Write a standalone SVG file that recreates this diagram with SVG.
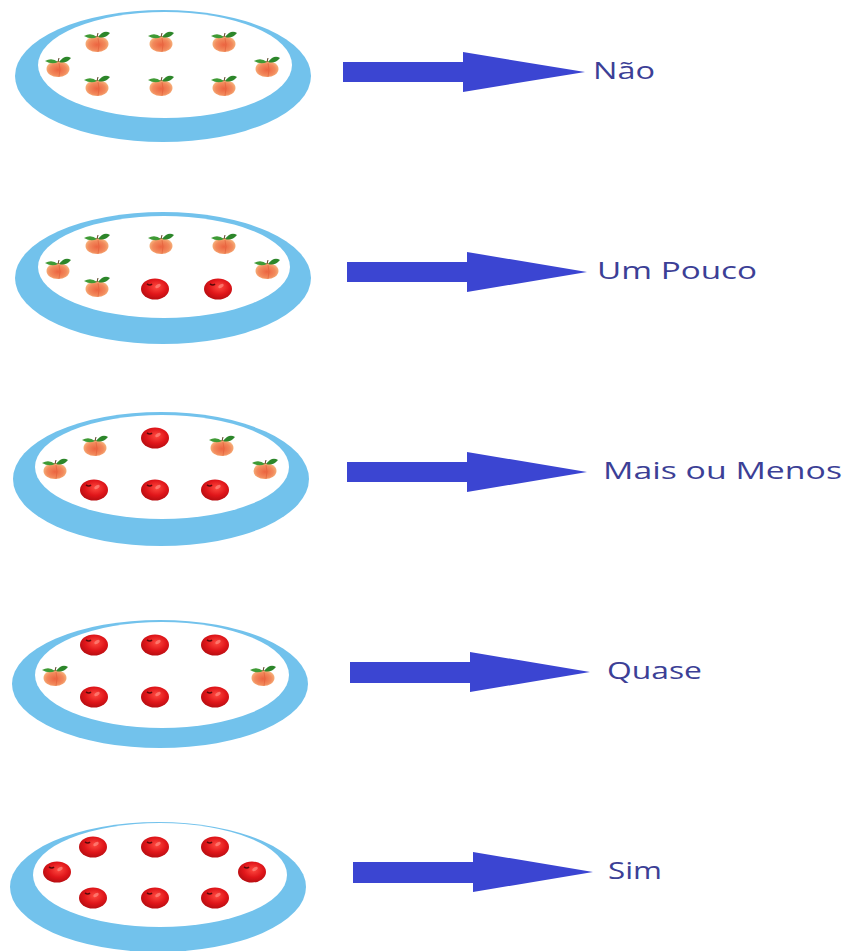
<svg xmlns="http://www.w3.org/2000/svg" xmlns:xlink="http://www.w3.org/1999/xlink" width="848" height="951" viewBox="0 0 848 951">
  <style>
    .rim { fill: #72c2ec; }
    .dish { fill: #ffffff; }
    .arrow { fill: #3b45d2; }
    .label { font-family: "Open Sans", "Liberation Sans", sans-serif; font-size: 23px; fill: #3c3f96; }
  </style>
  <defs>
    <radialGradient id="peachSkin" cx="0.5" cy="0.55" r="0.6">
      <stop offset="0" stop-color="#ec6440"/>
      <stop offset="0.6" stop-color="#f28a5c"/>
      <stop offset="1" stop-color="#f8c48a"/>
    </radialGradient>
    <radialGradient id="appleSkin" cx="0.55" cy="0.4" r="0.65">
      <stop offset="0" stop-color="#ff4a40"/>
      <stop offset="0.55" stop-color="#e0161a"/>
      <stop offset="1" stop-color="#b00c10"/>
    </radialGradient>
    <!-- peach: origin at the body centre -->
    <g id="peach">
      <ellipse cx="0" cy="1" rx="11.5" ry="8" fill="url(#peachSkin)"/>
      <path d="M1,-5 Q3,1 1,9" fill="none" stroke="#de5a36" stroke-width="0.9" opacity="0.6"/>
      <path d="M0,-6 Q-6,-11 -13,-7 Q-6,-3 0,-6 Z" fill="#3f9a35"/>
      <path d="M1,-6 Q7,-14 13,-10 Q8,-4 1,-6 Z" fill="#2c862a"/>
      <path d="M0,-6 L1,-10" stroke="#5a4020" stroke-width="1"/>
    </g>
    <!-- apple: origin at the centre -->
    <g id="apple">
      <ellipse cx="0" cy="0" rx="14" ry="10.5" fill="url(#appleSkin)"/>
      <path d="M-8,-5 Q-5,-3 -3,-5" fill="none" stroke="#5a0a0a" stroke-width="1.6"/>
      <ellipse cx="3" cy="-3" rx="3" ry="1.6" fill="#ff8a80" opacity="0.7" transform="rotate(-30 3 -3)"/>
    </g>
  </defs>

  <rect width="848" height="951" fill="#ffffff"/>

  <!-- plates -->
  <g id="plate-nao">
    <ellipse class="rim" cx="163" cy="76" rx="148" ry="66"/>
    <ellipse class="dish" cx="165" cy="65" rx="127" ry="53"/>
    <use href="#peach" x="97" y="43"/>
    <use href="#peach" x="161" y="43"/>
    <use href="#peach" x="224" y="43"/>
    <use href="#peach" x="58" y="68"/>
    <use href="#peach" x="267" y="68"/>
    <use href="#peach" x="97" y="87"/>
    <use href="#peach" x="161" y="87"/>
    <use href="#peach" x="224" y="87"/>
  </g>

  <g id="plate-um-pouco">
    <ellipse class="rim" cx="163" cy="278" rx="148" ry="66"/>
    <ellipse class="dish" cx="164" cy="267" rx="126" ry="51"/>
    <use href="#peach" x="97" y="245"/>
    <use href="#peach" x="161" y="245"/>
    <use href="#peach" x="224" y="245"/>
    <use href="#peach" x="58" y="270"/>
    <use href="#peach" x="267" y="270"/>
    <use href="#peach" x="97" y="288"/>
    <use href="#apple" x="155" y="289"/>
    <use href="#apple" x="218" y="289"/>
  </g>

  <g id="plate-mais-ou-menos">
    <ellipse class="rim" cx="161" cy="479" rx="148" ry="67"/>
    <ellipse class="dish" cx="162" cy="467" rx="127" ry="52"/>
    <use href="#peach" x="95" y="447"/>
    <use href="#apple" x="155" y="438"/>
    <use href="#peach" x="222" y="447"/>
    <use href="#peach" x="55" y="470"/>
    <use href="#peach" x="265" y="470"/>
    <use href="#apple" x="94" y="490"/>
    <use href="#apple" x="155" y="490"/>
    <use href="#apple" x="215" y="490"/>
  </g>

  <g id="plate-quase">
    <ellipse class="rim" cx="160" cy="684" rx="148" ry="64"/>
    <ellipse class="dish" cx="162" cy="675" rx="127" ry="53"/>
    <use href="#apple" x="94" y="645"/>
    <use href="#apple" x="155" y="645"/>
    <use href="#apple" x="215" y="645"/>
    <use href="#peach" x="55" y="677"/>
    <use href="#peach" x="263" y="677"/>
    <use href="#apple" x="94" y="697"/>
    <use href="#apple" x="155" y="697"/>
    <use href="#apple" x="215" y="697"/>
  </g>

  <g id="plate-sim">
    <ellipse class="rim" cx="158" cy="887" rx="148" ry="65"/>
    <ellipse class="dish" cx="160" cy="875" rx="127" ry="52"/>
    <use href="#apple" x="93" y="847"/>
    <use href="#apple" x="155" y="847"/>
    <use href="#apple" x="215" y="847"/>
    <use href="#apple" x="57" y="872"/>
    <use href="#apple" x="252" y="872"/>
    <use href="#apple" x="93" y="898"/>
    <use href="#apple" x="155" y="898"/>
    <use href="#apple" x="215" y="898"/>
  </g>

  <!-- block arrows from each plate to its answer -->
  <g id="connectors">
    <polygon class="arrow" points="343,62 463,62 463,52 585,72 463,92 463,82 343,82"/>
    <polygon class="arrow" points="347,262 467,262 467,252 587,272 467,292 467,282 347,282"/>
    <polygon class="arrow" points="347,462 467,462 467,452 587,472 467,492 467,482 347,482"/>
    <polygon class="arrow" points="350,662 470,662 470,652 590,672 470,692 470,683 350,683"/>
    <polygon class="arrow" points="353,862 473,862 473,852 593,872 473,892 473,883 353,883"/>
  </g>

  <!-- answers -->
  <g id="label-nao"><text class="label" x="593" y="79" textLength="62" lengthAdjust="spacingAndGlyphs">Não</text></g>
  <g id="label-um-pouco"><text class="label" x="597" y="279" textLength="160" lengthAdjust="spacingAndGlyphs">Um Pouco</text></g>
  <g id="label-mais-ou-menos"><text class="label" x="603" y="479" textLength="239" lengthAdjust="spacingAndGlyphs">Mais ou Menos</text></g>
  <g id="label-quase"><text class="label" x="607" y="679" textLength="95" lengthAdjust="spacingAndGlyphs">Quase</text></g>
  <g id="label-sim"><text class="label" x="608" y="879" textLength="54" lengthAdjust="spacingAndGlyphs">Sim</text></g>
</svg>
